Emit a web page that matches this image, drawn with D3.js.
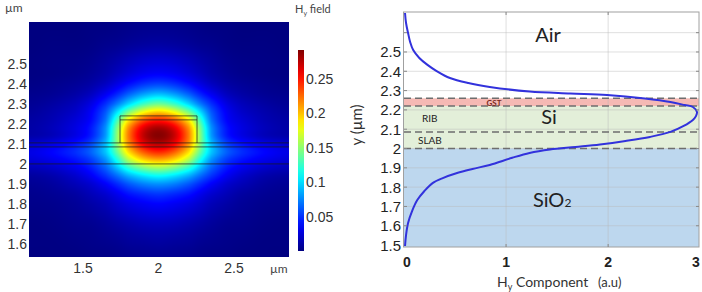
<!DOCTYPE html>
<html><head><meta charset="utf-8">
<script src="https://cdn.jsdelivr.net/npm/d3@7"></script>
<style>body{margin:0;background:#fff}svg{display:block}</style>
</head><body><svg id="c" width="702" height="292"></svg>
<script>
// ---------------- DATA ----------------
// Left panel: Hy field map
const fieldX = [1.15, 1.3, 1.45, 1.55, 1.65, 1.72, 1.8, 1.9, 2.0, 2.1, 2.2, 2.28, 2.35, 2.45, 2.55, 2.7, 2.86];
const fieldY = [2.70, 2.60, 2.50, 2.45, 2.40, 2.35, 2.30, 2.26, 2.22, 2.18, 2.14, 2.10, 2.06, 2.02, 1.98, 1.94, 1.90, 1.85, 1.80, 1.70, 1.60, 1.53];
const fieldValues = [
  [.000,.000,.000,.001,.001,.002,.003,.004,.004,.004,.003,.002,.001,.001,.000,.000,.000],
  [.000,.001,.001,.002,.004,.005,.007,.009,.010,.009,.007,.005,.004,.002,.001,.001,.000],
  [.001,.002,.003,.005,.009,.013,.018,.023,.025,.023,.018,.013,.009,.005,.003,.002,.001],
  [.001,.002,.004,.007,.012,.018,.025,.032,.035,.032,.025,.018,.012,.007,.004,.002,.001],
  [.002,.004,.007,.011,.019,.028,.039,.050,.055,.050,.039,.028,.019,.011,.007,.004,.002],
  [.004,.006,.011,.018,.032,.045,.063,.081,.090,.081,.063,.045,.032,.018,.011,.006,.004],
  [.006,.010,.017,.028,.049,.070,.098,.126,.140,.126,.098,.070,.049,.028,.017,.010,.006],
  [.008,.013,.021,.034,.061,.098,.142,.179,.195,.179,.142,.098,.061,.034,.021,.013,.008],
  [.010,.015,.025,.037,.069,.123,.186,.230,.245,.230,.186,.123,.069,.037,.025,.015,.010],
  [.011,.017,.028,.042,.078,.140,.213,.263,.280,.263,.213,.140,.078,.042,.028,.017,.011],
  [.012,.017,.029,.044,.081,.145,.220,.273,.290,.273,.220,.145,.081,.044,.029,.017,.012],
  [.022,.029,.041,.056,.091,.144,.212,.259,.275,.259,.212,.144,.091,.056,.041,.029,.022],
  [.029,.037,.049,.064,.093,.135,.191,.230,.245,.230,.191,.135,.093,.064,.049,.037,.029],
  [.025,.031,.041,.053,.078,.113,.160,.193,.205,.193,.160,.113,.078,.053,.041,.031,.025],
  [.016,.021,.031,.043,.064,.089,.121,.145,.155,.145,.121,.089,.064,.043,.031,.021,.016],
  [.009,.013,.022,.033,.050,.066,.086,.102,.110,.102,.086,.066,.050,.033,.022,.013,.009],
  [.006,.009,.016,.023,.035,.047,.061,.073,.078,.073,.061,.047,.035,.023,.016,.009,.006],
  [.004,.006,.010,.016,.023,.031,.041,.048,.052,.048,.041,.031,.023,.016,.010,.006,.004],
  [.003,.004,.007,.011,.016,.022,.028,.033,.036,.033,.028,.022,.016,.011,.007,.004,.003],
  [.001,.002,.004,.005,.008,.011,.014,.017,.018,.017,.014,.011,.008,.005,.004,.002,.001],
  [.001,.001,.002,.003,.004,.005,.007,.008,.009,.008,.007,.005,.004,.003,.002,.001,.001],
  [.000,.001,.001,.002,.002,.003,.004,.005,.005,.005,.004,.003,.002,.002,.001,.001,.000]
];
const fieldMax = 0.292;
const colorbarTicks = [0.05, 0.1, 0.15, 0.2, 0.25];
const leftXTicks = [1.5, 2, 2.5];
const leftYTicks = [1.6, 1.7, 1.8, 1.9, 2.0, 2.1, 2.2, 2.3, 2.4, 2.5];
const fullWidthLines = [2.105, 2.085, 2.0];
const ribEdges = [1.745, 2.255];
const ribLines = [2.24, 2.22];

// Right panel: Hy component profile
const profileY = [2.702, 2.650, 2.598, 2.552, 2.510, 2.469, 2.433, 2.401, 2.365, 2.339, 2.319, 2.295, 2.285, 2.277, 2.259, 2.241, 2.225, 2.215, 2.189, 2.168, 2.148, 2.117, 2.086, 2.060, 2.039, 2.021, 2.008, 1.995, 1.977, 1.952, 1.915, 1.894, 1.873, 1.847, 1.821, 1.780, 1.733, 1.677, 1.614, 1.552, 1.495];
const profileH = [0.01, 0.02, 0.04, 0.06, 0.09, 0.15, 0.23, 0.32, 0.45, 0.63, 0.84, 1.23, 1.63, 1.99, 2.36, 2.61, 2.75, 2.83, 2.87, 2.86, 2.83, 2.74, 2.61, 2.41, 2.17, 1.92, 1.68, 1.43, 1.23, 1.06, 0.84, 0.67, 0.52, 0.38, 0.28, 0.20, 0.13, 0.08, 0.04, 0.02, 0.01];
const rightXTicks = [0, 1, 2, 3];
const rightYTicks = [1.5, 1.6, 1.7, 1.8, 1.9, 2.0, 2.1, 2.2, 2.3, 2.4, 2.5];
const rightGridY = [1.6, 1.7, 1.8, 1.9, 2.0, 2.1, 2.2, 2.3, 2.4, 2.5, 2.6];
const layerNames = ["Air", "GST", "Si", "SiO2"];
const layerTop = [2.707, 2.26, 2.22, 2.0];
const layerBottom = [2.26, 2.22, 2.0, 1.49];
const interfaceLines = [2.26, 2.22, 2.085, 2.0];
const subLayerNames = ["GST", "RIB", "SLAB"];

// ---------------- DRAW ----------------
const svg = d3.select("#c");
const tickFont = "'Liberation Sans Narrow','Liberation Sans',Arial,sans-serif";
const labFont = "Lato,'Open Sans',sans-serif";

function jetRGB(t) {
  t = Math.max(0, Math.min(1, t));
  const c = v => Math.round(255 * Math.max(0, Math.min(1, v)));
  return [c(1.5 - Math.abs(4 * t - 3)), c(1.5 - Math.abs(4 * t - 2)), c(1.5 - Math.abs(4 * t - 1))];
}
const color = d3.scaleSequential(t => { const c = jetRGB(t); return `rgb(${c[0]},${c[1]},${c[2]})`; }).domain([0, fieldMax]);

// Left scales
const hx = d3.scaleLinear().domain([1.1424, 2.864]).range([29, 289]);
const hy = d3.scaleLinear().domain([1.535, 2.709]).range([257, 22]);

function fracIndex(arr, v) {
  const n = arr.length, asc = arr[n - 1] > arr[0];
  if (asc ? v <= arr[0] : v >= arr[0]) return 0;
  if (asc ? v >= arr[n - 1] : v <= arr[n - 1]) return n - 1;
  for (let i = 0; i < n - 1; i++) {
    const a = arr[i], b = arr[i + 1];
    if (asc ? v <= b : v >= b) return i + (v - a) / (b - a);
  }
  return n - 1;
}
function cr(vals, f) {
  const n = vals.length;
  const i = Math.max(0, Math.min(n - 2, Math.floor(f)));
  const t = f - i;
  const p0 = vals[Math.max(0, i - 1)], p1 = vals[i], p2 = vals[i + 1], p3 = vals[Math.min(n - 1, i + 2)];
  return 0.5 * (2 * p1 + (-p0 + p2) * t + (2 * p0 - 5 * p1 + 4 * p2 - p3) * t * t + (-p0 + 3 * p1 - 3 * p2 + p3) * t * t * t);
}

const x0 = hx.range()[0], x1 = hx.range()[1], y0 = hy.range()[1], y1 = hy.range()[0];
const W = x1 - x0, H = y1 - y0;
const cv = document.createElement("canvas"); cv.width = W; cv.height = H;
const ctx = cv.getContext("2d");
const img = ctx.createImageData(W, H);
for (let px = 0; px < W; px++) {
  const fx = fracIndex(fieldX, hx.invert(x0 + px + 0.5));
  const col = fieldValues.map(row => cr(row, fx));
  for (let py = 0; py < H; py++) {
    const fy = fracIndex(fieldY, hy.invert(y0 + py + 0.5));
    const v = Math.max(0, cr(col, fy));
    const c = jetRGB(v / fieldMax);
    const k = (py * W + px) * 4;
    img.data[k] = c[0]; img.data[k + 1] = c[1]; img.data[k + 2] = c[2]; img.data[k + 3] = 255;
  }
}
ctx.putImageData(img, 0, 0);
svg.append("image").attr("x", x0).attr("y", y0).attr("width", W).attr("height", H)
  .attr("preserveAspectRatio", "none").attr("href", cv.toDataURL());

// structure outlines
const gs = svg.append("g").attr("stroke", "#1a1a1a").attr("stroke-opacity", 0.7).attr("stroke-width", 1).attr("fill", "none");
fullWidthLines.forEach(v => gs.append("line").attr("x1", x0).attr("x2", x1).attr("y1", hy(v)).attr("y2", hy(v)));
ribLines.forEach(v => gs.append("line").attr("x1", hx(ribEdges[0])).attr("x2", hx(ribEdges[1])).attr("y1", hy(v)).attr("y2", hy(v)));
ribEdges.forEach(v => gs.append("line").attr("x1", hx(v)).attr("x2", hx(v)).attr("y1", hy(ribLines[0])).attr("y2", hy(fullWidthLines[0])));

// left ticks
const lt = svg.append("g").attr("font-family", tickFont).attr("font-size", 14).attr("fill", "#333");
leftYTicks.forEach(v => lt.append("text").attr("x", 27).attr("y", hy(v) + 5).attr("text-anchor", "end").text(+v.toFixed(1) + ""));
leftXTicks.forEach(v => lt.append("text").attr("x", hx(v)).attr("y", 273).attr("text-anchor", "middle").text(v + ""));
const lu = svg.append("g").attr("font-family", labFont).attr("font-size", 12).attr("fill", "#444");
lu.append("text").attr("x", 5).attr("y", 12).text("µm");
lu.append("text").attr("x", 270).attr("y", 273).text("µm");
const ht = lu.append("text").attr("x", 295).attr("y", 13).attr("font-size", 11);
ht.append("tspan").text("H");
ht.append("tspan").attr("font-size", 7).attr("dy", 3).text("y");
ht.append("tspan").attr("dy", -3).text(" field");

// colorbar
const cb = d3.scaleLinear().domain([0, fieldMax]).range([251, 50]);
const defs = svg.append("defs");
const grad = defs.append("linearGradient").attr("id", "jet").attr("x1", 0).attr("x2", 0).attr("y1", 1).attr("y2", 0);
d3.range(0, 1.0001, 0.05).forEach(t => grad.append("stop").attr("offset", t).attr("stop-color", color(t * fieldMax)));
svg.append("rect").attr("x", 298).attr("y", cb(fieldMax)).attr("width", 6).attr("height", cb(0) - cb(fieldMax)).attr("fill", "url(#jet)");
colorbarTicks.forEach(v => lt.append("text").attr("x", 306).attr("y", cb(v) + 5).text(v + ""));

// ---------------- RIGHT PANEL ----------------
const rx = d3.scaleLinear().domain([0, 2.89]).range([404, 699]).clamp(true);
const ry = d3.scaleLinear().domain([1.49, 2.707]).range([247, 12]);
const layerFill = ["#ffffff", "#f5b9b4", "#e3efd9", "#bdd7ee"];
layerNames.forEach((n, i) => svg.append("rect").attr("x", rx(0)).attr("width", rx(2.89) - rx(0))
  .attr("y", ry(layerTop[i])).attr("height", ry(layerBottom[i]) - ry(layerTop[i])).attr("fill", layerFill[i]));

const grid = svg.append("g").attr("stroke", "#b8b8b8").attr("stroke-opacity", 0.45).attr("stroke-width", 1);
rightGridY.forEach(v => grid.append("line").attr("x1", rx(0)).attr("x2", rx(2.89)).attr("y1", ry(v)).attr("y2", ry(v)));
[1, 2].forEach(v => grid.append("line").attr("x1", rx(v)).attr("x2", rx(v)).attr("y1", ry(2.707)).attr("y2", ry(1.49)));

const dash = svg.append("g").attr("stroke", "#6e6e6e").attr("stroke-width", 1.5).attr("stroke-dasharray", "7,4");
interfaceLines.forEach(v => dash.append("line").attr("x1", rx(0)).attr("x2", rx(2.89)).attr("y1", ry(v)).attr("y2", ry(v)));

const line = d3.line().x((d, i) => rx(profileH[i])).y(d => ry(d)).curve(d3.curveCatmullRom.alpha(0.5));
svg.append("path").attr("d", line(profileY)).attr("fill", "none").attr("stroke", "#3232dc").attr("stroke-width", 2);

// border
svg.append("rect").attr("x", rx(0) - 0.5).attr("y", ry(2.707)).attr("width", rx(2.89) - rx(0) + 0.5).attr("height", ry(1.49) - ry(2.707))
  .attr("fill", "none").attr("stroke", "#a0a0a0").attr("stroke-width", 1);
const tk = svg.append("g").attr("stroke", "#888").attr("stroke-width", 1);
rightGridY.forEach(v => {
  tk.append("line").attr("x1", rx(0)).attr("x2", rx(0) + 3).attr("y1", ry(v)).attr("y2", ry(v));
  tk.append("line").attr("x1", rx(2.89) - 3).attr("x2", rx(2.89)).attr("y1", ry(v)).attr("y2", ry(v));
});
[1, 2].forEach(v => {
  tk.append("line").attr("x1", rx(v)).attr("x2", rx(v)).attr("y1", ry(2.707)).attr("y2", ry(2.707) + 3);
  tk.append("line").attr("x1", rx(v)).attr("x2", rx(v)).attr("y1", ry(1.49)).attr("y2", ry(1.49) - 3);
});

// right tick labels
const rt = svg.append("g").attr("font-family", tickFont).attr("fill", "#222");
rightYTicks.forEach(v => rt.append("text").attr("x", 401).attr("y", ry(v) + 5.5).attr("font-size", 15).attr("text-anchor", "end").text(+v.toFixed(1) + ""));
rightXTicks.forEach(v => rt.append("text").attr("x", rx(v) + (v === 3 ? -3 : v === 0 ? 3 : 0)).attr("y", 267).attr("font-size", 14)
  .attr("font-weight", "bold").attr("text-anchor", "middle").text(v + ""));

// axis titles
const at = svg.append("g").attr("font-family", labFont).attr("fill", "#333");
at.append("text").attr("transform", "translate(362,125) rotate(-90)").attr("text-anchor", "middle").attr("font-size", 15).text("y  (µm)");
const xt = at.append("text").attr("x", 497).attr("y", 287).attr("font-size", 14);
xt.append("tspan").text("H");
xt.append("tspan").attr("font-size", 9).attr("dy", 3).text("y");
xt.append("tspan").attr("dy", -3).text(" Component");
at.append("text").attr("x", 598).attr("y", 287).attr("font-size", 13).text("(a.u)");

// region labels
const rl = svg.append("g").attr("font-family", labFont).attr("fill", "#222");
rl.append("text").attr("x", 548).attr("y", 42).attr("font-size", 20).attr("text-anchor", "middle").text(layerNames[0]);
rl.append("text").attr("x", 549).attr("y", 124).attr("font-size", 20).attr("text-anchor", "middle").text(layerNames[2]);
const so = rl.append("text").attr("x", 533).attr("y", 207).attr("font-size", 20);
so.append("tspan").text("SiO");
so.append("tspan").attr("font-size", 12).text("2");
rl.append("text").attr("x", 494).attr("y", 106).attr("font-size", 8).attr("font-weight", "bold").attr("fill", "#7a2a20").attr("text-anchor", "middle").text(subLayerNames[0]);
rl.append("text").attr("x", 422).attr("y", 122).attr("font-size", 10).text(subLayerNames[1]);
rl.append("text").attr("x", 418).attr("y", 144).attr("font-size", 10).text(subLayerNames[2]);
</script></body></html>
